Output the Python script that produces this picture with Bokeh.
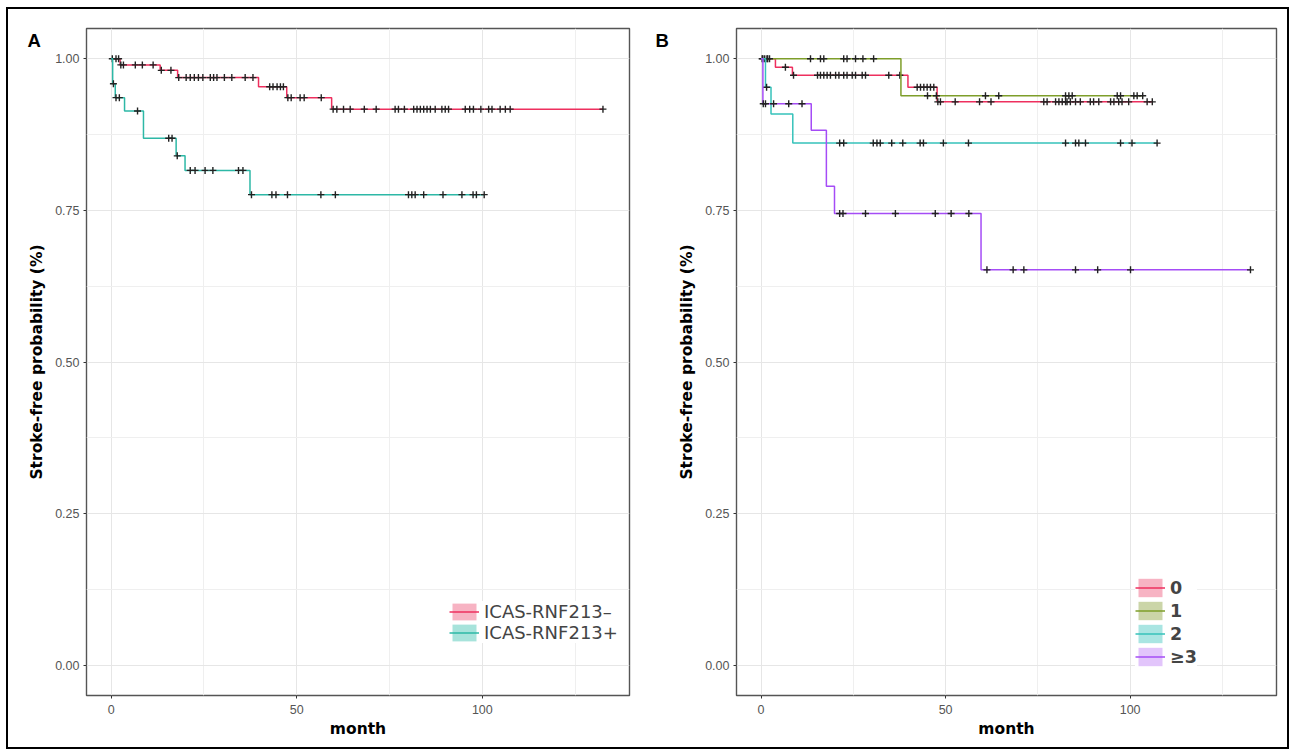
import numpy as np
from bokeh.plotting import figure
from bokeh.layouts import row
from bokeh.models import (FixedTicker, NumeralTickFormatter, Legend, LegendItem,
                          Title, Range1d)
from bokeh.embed import file_html
from bokeh.resources import INLINE

# ---------------- Panel A data (Kaplan-Meier) ----------------
neg_label = "ICAS-RNF213–"
neg_times = [0, 2.4, 13.2, 17.9, 39.7, 47.3, 59.4, 132.5]
neg_surv = [1.0, 0.990, 0.981, 0.969, 0.954, 0.936, 0.917, 0.917]
neg_cens = [0.3, 1.3, 2.0, 2.6, 3.3, 6.5, 8.4, 11.3, 13.5, 16.1, 18.2, 20.2, 21.3, 22.4,
            23.5, 24.7, 26.7, 27.6, 28.5, 30.5, 32.5, 36.1, 38.2, 42.7, 43.6, 44.7, 45.6,
            46.4, 47.6, 48.5, 50.9, 52.0, 56.6, 59.8, 60.8, 62.6, 64.4, 68.2, 71.4, 76.5,
            77.4, 79.0, 81.5, 82.4, 83.3, 84.2, 85.1, 86.0, 87.3, 89.1, 90.0, 90.9, 95.4,
            96.6, 97.6, 99.6, 101.7, 102.6, 104.8, 106.2, 107.5, 132.5]

pos_label = "ICAS-RNF213+"
pos_times = [0, 0.4, 1.1, 3.6, 8.7, 17.5, 19.9, 37.4, 100.5]
pos_surv = [1.0, 0.959, 0.936, 0.914, 0.869, 0.840, 0.816, 0.776, 0.776]
pos_cens = [0.6, 1.3, 2.2, 7.1, 15.5, 16.4, 17.8, 21.3, 22.6, 25.3, 27.4, 34.3, 35.5,
            37.8, 43.3, 44.4, 47.5, 56.5, 60.4, 80.1, 81.0, 81.9, 84.2, 89.4, 94.5,
            97.5, 98.4, 100.5]

# ---------------- Panel B data ----------------
g_labels = ["0", "1", "2", "≥3"]
g0_times = [0, 3.9, 8.5, 39.8, 47.7, 106.2]
g0_surv = [1.0, 0.986, 0.973, 0.953, 0.929, 0.929]
g0_cens = [0.3, 1.0, 1.8, 6.6, 8.8, 15.3, 16.1, 17.0, 17.9, 18.8, 20.2, 21.1, 22.4, 23.3,
           24.7, 25.6, 27.4, 28.3, 34.6, 37.6, 42.3, 43.2, 44.1, 45.0, 45.9, 46.8, 47.9,
           48.6, 52.6, 59.2, 62.3, 76.6, 77.5, 79.8, 80.7, 81.6, 82.5, 82.9, 83.8, 85.2,
           86.5, 89.2, 90.1, 91.5, 94.7, 95.6, 96.9, 97.8, 99.6, 104.6, 106.0]

g1_times = [0, 37.9, 103.4]
g1_surv = [1.0, 0.939, 0.939]
g1_cens = [0.5, 1.6, 2.3, 13.4, 16.1, 17.0, 22.4, 23.3, 25.6, 27.6, 30.5, 45.1, 47.5,
           60.8, 64.4, 82.5, 83.4, 84.3, 96.5, 97.4, 101.0, 101.9, 103.4]

g2_times = [0, 1.2, 2.7, 8.6, 107.3]
g2_surv = [1.0, 0.953, 0.909, 0.861, 0.861]
g2_cens = [1.5, 21.3, 22.4, 30.4, 31.4, 32.3, 35.4, 38.4, 43.1, 44.0, 49.4, 56.2, 82.5,
           85.2, 86.1, 87.9, 97.4, 100.5, 107.3]

g3_times = [0, 0.5, 13.6, 17.7, 19.9, 59.6, 132.6]
g3_surv = [1.0, 0.926, 0.882, 0.790, 0.745, 0.652, 0.652]
g3_cens = [0.6, 1.2, 3.4, 7.5, 11.1, 21.3, 22.2, 28.3, 36.4, 47.2, 51.5, 56.3, 61.2,
           68.3, 71.2, 85.2, 91.2, 100.1, 132.6]

x_ticks = [0, 50, 100]
x_minor = [25, 75, 125]
y_ticks = [0, 0.25, 0.5, 0.75, 1.0]
y_minor = [0.125, 0.375, 0.625, 0.875]

COL_A = ["#EE2F5E", "#2DB8A6"]
FILL_A = ["#F7B3C3", "#A7E3DB"]
COL_B = ["#EE2F5E", "#7E9E2A", "#36C2BA", "#A54CF6"]
FILL_B = ["#F7B3C3", "#CBD5A8", "#A9E5E2", "#E2C5FB"]

TICK_FONT = "Liberation Sans"
TITLE_FONT = "DejaVu Sans"
FIG_H = 738


def surv_at(times, surv, t):
    idx = np.searchsorted(np.asarray(times), np.asarray(t), side="right") - 1
    return np.asarray(surv)[idx]


def make_panel(width, bl, br, letter, letter_dx):
    p = figure(width=width, height=FIG_H, output_backend="svg", toolbar_location=None,
               x_range=Range1d(-6.65, 139.65), y_range=Range1d(-0.05, 1.05),
               min_border_left=bl, min_border_right=br, min_border_top=19,
               min_border_bottom=FIG_H - 686)
    p.background_fill_color = "white"
    p.border_fill_color = "white"
    p.outline_line_color = "#555555"
    p.outline_line_width = 1.4
    p.xaxis.ticker = FixedTicker(ticks=x_ticks, minor_ticks=x_minor)
    p.yaxis.ticker = FixedTicker(ticks=y_ticks, minor_ticks=y_minor)
    p.yaxis.formatter = NumeralTickFormatter(format="0.00")
    for ax in (p.xaxis[0], p.yaxis[0]):
        ax.axis_line_color = None
        ax.major_tick_line_color = "#333333"
        ax.major_tick_out = 3
        ax.major_tick_in = 0
        ax.minor_tick_line_color = None
        ax.major_label_text_font = TICK_FONT
        ax.major_label_text_font_size = "12.5px"
        ax.major_label_text_color = "#555555"
        ax.axis_label_text_font = TITLE_FONT
        ax.axis_label_text_font_size = "15.5px"
        ax.axis_label_text_font_style = "bold"
        ax.axis_label_text_color = "black"
    p.xaxis.axis_label = "month"
    p.yaxis.axis_label = "Stroke-free probability (%)"
    p.xaxis.major_label_standoff = 5
    p.yaxis.major_label_standoff = 3
    p.xaxis.axis_label_standoff = 3
    p.yaxis.axis_label_standoff = 6
    for g in (p.xgrid[0], p.ygrid[0]):
        g.grid_line_color = "#E6E6E6"
        g.grid_line_width = 1
        g.minor_grid_line_color = "#EFEFEF"
        g.minor_grid_line_width = 1
    p.add_layout(Title(text=letter, align="left", offset=letter_dx, standoff=-44,
                       text_font=TICK_FONT, text_font_style="bold",
                       text_font_size="18.5px", text_color="black"), "above")
    return p


def add_curve(p, times, surv, cens, color, fill):
    line = p.step(x=times, y=surv, mode="after", line_color=color, line_width=1.5)
    cens_y = surv_at(times, surv, cens)
    p.scatter(x=cens, y=cens_y, marker="cross", size=7, line_color="#222222",
              line_width=1.4)
    # zero-area swatch renderer (only used for the legend's filled key)
    sw = p.quad(left=times[:1], right=times[:1], top=surv[:1], bottom=surv[:1],
                fill_color=fill, line_color=None)
    return sw, line


def make_legend(items, loc, bold, size, gh):
    return Legend(items=items, location=loc, glyph_width=30, glyph_height=gh,
                  spacing=0, padding=0, margin=0, label_standoff=5,
                  label_text_font=TITLE_FONT, label_text_font_size=size,
                  label_text_font_style="bold" if bold else "normal",
                  label_height=gh, border_line_color=None,
                  background_fill_color="white", background_fill_alpha=1)


# ---------------- Panel A ----------------
pA = make_panel(644, 78, 23, "A", -59)
itemsA = []
for lab, t, s, c, col, fil in [
        (neg_label, neg_times, neg_surv, neg_cens, COL_A[0], FILL_A[0]),
        (pos_label, pos_times, pos_surv, pos_cens, COL_A[1], FILL_A[1])]:
    sw, ln = add_curve(pA, t, s, c, col, fil)
    itemsA.append(LegendItem(label=lab, renderers=[sw, ln]))
pA.add_layout(make_legend(itemsA, (363, 52), False, "18px", 21))

# ---------------- Panel B ----------------
pB = make_panel(635, 84, 11, "B", -81)
itemsB = []
for lab, t, s, c, col, fil in zip(g_labels,
                                  [g0_times, g1_times, g2_times, g3_times],
                                  [g0_surv, g1_surv, g2_surv, g3_surv],
                                  [g0_cens, g1_cens, g2_cens, g3_cens],
                                  COL_B, FILL_B):
    sw, ln = add_curve(pB, t, s, c, col, fil)
    itemsB.append(LegendItem(label=lab, renderers=[sw, ln]))
pB.add_layout(make_legend(itemsB, (399, 27), True, "17.5px", 23))

layout = row(pA, pB, margin=(7, 0, 0, 6), styles={"border": "2px solid black"})

open("out.html", "w").write(file_html(layout, INLINE))
